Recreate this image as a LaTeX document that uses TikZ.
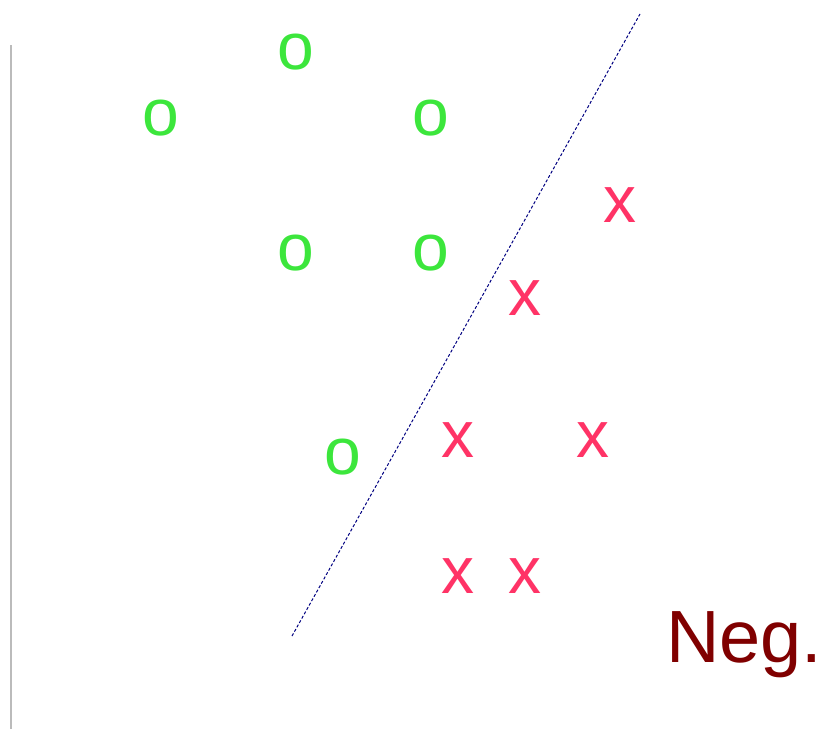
\documentclass[tikz,border=0pt]{standalone}
\usepackage{fontspec}
\setmainfont{Liberation Sans}
\usetikzlibrary{positioning}
\definecolor{posgreen}{HTML}{3CE63C}
\definecolor{negred}{HTML}{FF3366}
\definecolor{darkred}{HTML}{800000}
\definecolor{navy}{HTML}{000080}
\definecolor{axisgray}{HTML}{BBBBBB}
\tikzset{
  posmark/.style={inner sep=0pt, text=posgreen, font=\fontsize{66}{66}\selectfont},
  negmark/.style={inner sep=0pt, text=negred, font=\fontsize{66}{66}\selectfont},
  sideaxis/.style={draw=axisgray, line width=2pt},
  boundary/.style={draw=navy, line width=1pt, dash pattern=on 3pt off 2pt},
  classlabel/.style={inner sep=0pt, anchor=base west, text=darkred, font=\fontsize{74}{74}\selectfont},
}
\begin{document}
\begin{tikzpicture}[x=1pt, y=-1pt]
  \useasboundingbox (0,0) rectangle (821,729);

  % left axis
  \coordinate (axtop) at (11,45);
  \coordinate (axbot) at (11,729);
  \draw[sideaxis] (axtop) -- (axbot);

  % positive samples
  \node[posmark] (o1) at (296,52) {o};
  \node[posmark] (o2) at (161,118) {o};
  \node[posmark] (o3) at (431,118) {o};
  \node[posmark] (o4) at (296,253) {o};
  \node[posmark] (o5) at (431,253) {o};
  \node[posmark] (o6) at (343,457) {o};

  % negative samples
  \node[negmark] (x1) at (620,205) {x};
  \node[negmark] (x2) at (525,298) {x};
  \node[negmark] (x3) at (458,440) {x};
  \node[negmark] (x4) at (593,440) {x};
  \node[negmark] (x5) at (458,576) {x};
  \node[negmark] (x6) at (525,576) {x};

  % separating line
  \coordinate (sepbot) at (292,636);
  \coordinate (septop) at (640,14);
  \draw[boundary] (sepbot) -- (septop);

  \node[classlabel] (neg) at (666,662) {Neg.};
\end{tikzpicture}
\end{document}
